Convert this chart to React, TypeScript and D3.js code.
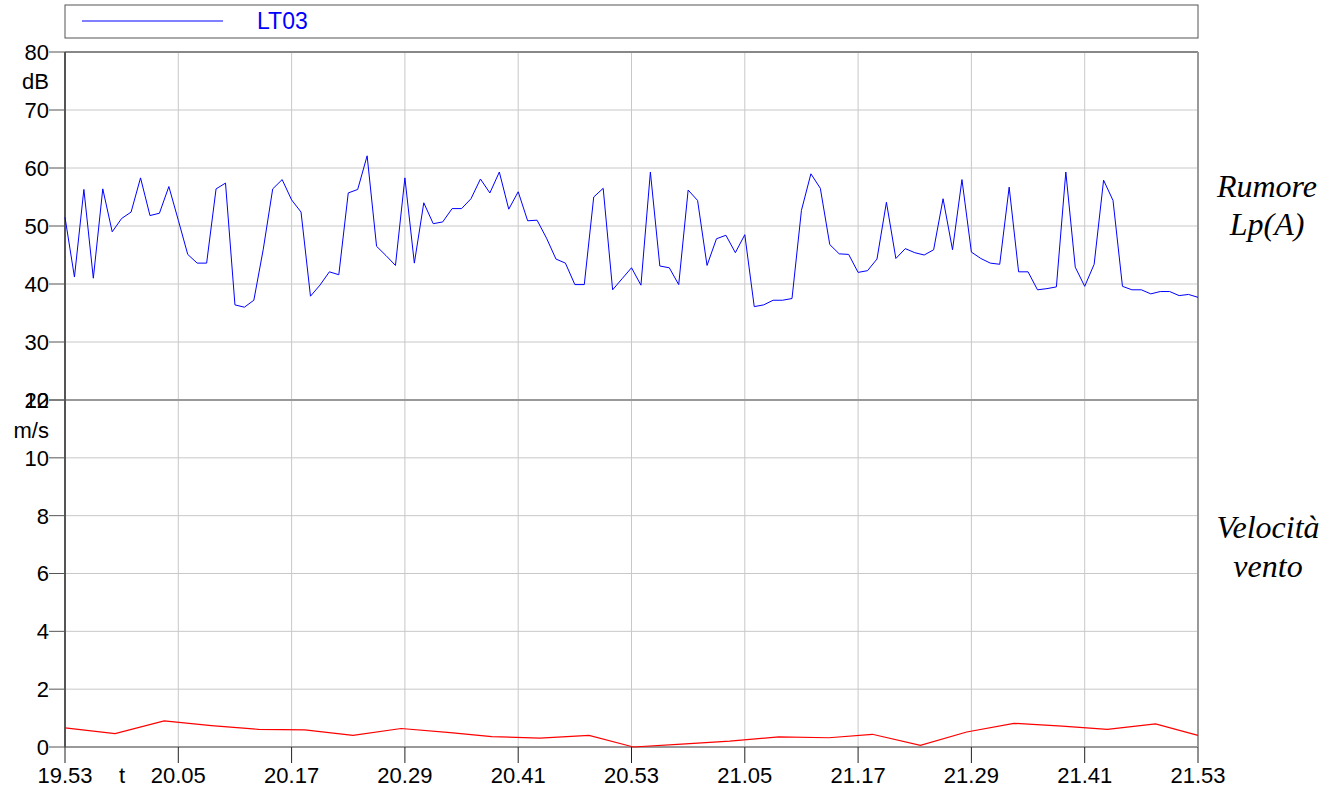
import React from "react";
import * as d3 from "d3";

// noise Lp(A), one reading per minute from 19.53
const noiseDb = [
  51.5, 41.2, 56.3, 41.0, 56.4, 49.0, 51.3, 52.4, 58.3, 51.8,
  52.2, 56.8, 51.0, 45.1, 43.6, 43.6, 56.4, 57.4, 36.4, 36.0,
  37.2, 46.0, 56.4, 58.0, 54.5, 52.4, 37.9, 39.8, 42.1, 41.6,
  55.7, 56.3, 62.1, 46.5, 44.9, 43.2, 58.3, 43.6, 54.0, 50.4,
  50.7, 53.0, 53.0, 54.7, 58.1, 55.7, 59.3, 52.9, 55.9, 50.9,
  51.0, 47.9, 44.3, 43.6, 39.9, 39.9, 55.0, 56.5, 39.0, 40.9,
  42.8, 39.8, 59.3, 43.1, 42.8, 39.9, 56.2, 54.4, 43.2, 47.8,
  48.4, 45.4, 48.5, 36.1, 36.4, 37.2, 37.2, 37.5, 52.7, 59.0,
  56.5, 46.8, 45.2, 45.1, 42.0, 42.3, 44.3, 54.1, 44.4, 46.1,
  45.4, 45.0, 45.9, 54.7, 45.9, 58.0, 45.5, 44.4, 43.6, 43.4,
  56.7, 42.1, 42.1, 39.0, 39.2, 39.5, 59.3, 42.9, 39.6, 43.4,
  57.9, 54.4, 39.6, 39.0, 39.0, 38.3, 38.7, 38.7, 38.0, 38.2,
  37.7,
];

// wind speed, minutes after 19.53
const windMin = [
  0, 5.3, 10.5, 15.5, 20.5, 25.4, 30.5, 35.6, 40.8, 45.2, 50.3, 55.5,
  60.2, 65.3, 70.4, 75.6, 80.9, 85.5, 90.6, 95.5, 100.5, 105.6, 110.4, 115.5, 120,
];
const windMs = [
  0.66, 0.46, 0.9, 0.74, 0.61, 0.59, 0.4, 0.64, 0.5, 0.36, 0.31, 0.4,
  0.0, 0.1, 0.2, 0.35, 0.32, 0.44, 0.06, 0.52, 0.82, 0.72, 0.61, 0.8, 0.4,
];

const noiseTicks = [20, 30, 40, 50, 60, 70, 80];
const windTicks = [0, 2, 4, 6, 8, 10, 12];

const W = 1339;
const H = 791;
const left = 65;
const right = 1198;
const top1 = 52;
const mid = 400;
const bottom = 747;

const start = new Date(2020, 0, 1, 19, 53);
const addMin = (m: number) => new Date(start.getTime() + m * 60000);

const sans = "'Liberation Sans', Arial, sans-serif";
const serif = "'Liberation Serif', 'Times New Roman', serif";

export default function App() {
  const x = d3.scaleTime().domain([start, addMin(120)]).range([left, right]);
  const yN = d3.scaleLinear().domain([20, 80]).range([mid, top1]);
  const yW = d3.scaleLinear().domain([0, 12]).range([bottom, mid]);
  const xTicks = d3.range(0, 121, 12).map(addMin);
  const fmt = d3.timeFormat("%H.%M");

  const noiseLine = d3
    .line<number>()
    .x((_, i) => x(addMin(i)))
    .y((d) => yN(d));
  const windLine = d3
    .line<number>()
    .x((_, i) => x(addMin(windMin[i])))
    .y((d) => yW(d));

  const grid = "#c8c8c8";
  const axis = "#555";
  const fs = 22;

  return (
    <svg
      width={W}
      height={H}
      style={{ position: "absolute", left: 0, top: 0, background: "#fff" }}
      fontFamily={sans}
    >
      {/* legend */}
      <rect x={left} y={5} width={right - left} height={33} fill="none" stroke={axis} strokeWidth={1} />
      <line x1={82} x2={223} y1={21} y2={21} stroke="#0000ff" strokeWidth={1} />
      <text x={257} y={29} fontSize={23} fill="#0000ff">LT03</text>

      {/* grid */}
      {xTicks.map((t, i) => (
        <line key={"vx" + i} x1={x(t)} x2={x(t)} y1={top1} y2={bottom} stroke={grid} />
      ))}
      {noiseTicks.slice(1, -1).map((v) => (
        <line key={"hn" + v} x1={left} x2={right} y1={yN(v)} y2={yN(v)} stroke={grid} />
      ))}
      {windTicks.slice(1, -1).map((v) => (
        <line key={"hw" + v} x1={left} x2={right} y1={yW(v)} y2={yW(v)} stroke={grid} />
      ))}

      {/* frames */}
      <line x1={left} x2={right} y1={top1} y2={top1} stroke="#888" strokeWidth={2} />
      <line x1={left} x2={right} y1={mid} y2={mid} stroke="#999" strokeWidth={2} />
      <line x1={left} x2={right} y1={bottom} y2={bottom} stroke="#999" strokeWidth={2} />
      <line x1={right} x2={right} y1={top1} y2={bottom} stroke="#999" strokeWidth={2} />
      <line x1={left} x2={left} y1={top1} y2={bottom} stroke={axis} strokeWidth={2} />

      {/* y ticks */}
      {noiseTicks.map((v) => (
        <g key={"tn" + v}>
          <line x1={49} x2={left} y1={yN(v)} y2={yN(v)} stroke={axis} />
          <text x={49} y={yN(v)} dy="0.36em" fontSize={fs} textAnchor="end">{v}</text>
        </g>
      ))}
      {windTicks.map((v) => (
        <g key={"tw" + v}>
          <line x1={49} x2={left} y1={yW(v)} y2={yW(v)} stroke={axis} />
          <text x={49} y={yW(v)} dy="0.36em" fontSize={fs} textAnchor="end">{v}</text>
        </g>
      ))}
      <text x={49} y={81} dy="0.36em" fontSize={fs} textAnchor="end">dB</text>
      <text x={49} y={430} dy="0.36em" fontSize={fs} textAnchor="end">m/s</text>

      {/* x ticks */}
      {xTicks.map((t, i) => (
        <g key={"tx" + i}>
          <line x1={x(t)} x2={x(t)} y1={bottom} y2={bottom + 16} stroke="#222" />
          <text x={x(t)} y={775} dy="0.36em" fontSize={fs} textAnchor="middle">{fmt(t)}</text>
        </g>
      ))}
      <text x={122} y={775} dy="0.36em" fontSize={fs} textAnchor="middle">t</text>

      {/* series */}
      <path d={noiseLine(noiseDb) ?? ""} fill="none" stroke="#0000ff" strokeWidth={1} />
      <path d={windLine(windMs) ?? ""} fill="none" stroke="#ff0000" strokeWidth={1.2} />

      {/* panel titles */}
      <g fontFamily={serif} fontStyle="italic" fontSize={32} textAnchor="middle">
        <text x={1267} y={197}>Rumore</text>
        <text x={1267} y={235}>Lp(A)</text>
        <text x={1268} y={538}>Velocità</text>
        <text x={1268} y={577}>vento</text>
      </g>
    </svg>
  );
}
